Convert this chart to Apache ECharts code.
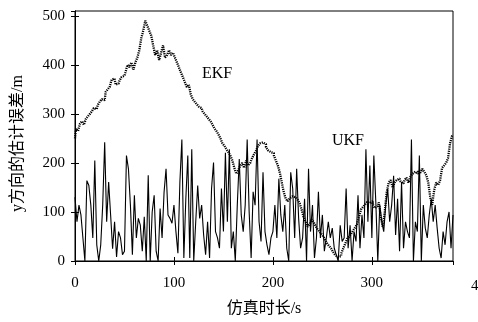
<!DOCTYPE html>
<html>
<head>
<meta charset="utf-8">
<script src="https://cdn.jsdelivr.net/npm/echarts@6/dist/echarts.min.js"></script>
<style>
  html, body { margin: 0; padding: 0; background: #fff; }
  #chart { width: 478px; height: 322px; }
</style>
</head>
<body>
<div id="chart"></div>
<script>
// 采样间隔 (s)
const timeStep = 2

// EKF 估计误差 (每 2 s 一个点)
const ekfError = [
  250, 270, 265, 280, 285, 278, 290, 295, 300, 305, 312, 310, 318, 325, 330, 328,
  345, 350, 355, 370, 372, 360, 362, 368, 375, 378, 385, 400, 395, 405, 390, 405,
  415, 430, 455, 470, 490, 480, 470, 460, 440, 420, 430, 410, 425, 440, 415, 420,
  430, 420, 425, 415, 405, 395, 385, 375, 365, 355, 360, 340, 330, 325, 320, 315,
  312, 305, 300, 295, 290, 285, 278, 270, 265, 258, 250, 240, 235, 228, 222, 215,
  205, 190, 178, 185, 195, 200, 190, 205, 195, 200, 210, 218, 225, 235, 240, 242,
  238, 232, 226, 222, 220, 215, 205, 195, 180, 160, 140, 127, 122, 128, 132, 130,
  128, 125, 118, 105, 90, 80, 70, 75, 85, 80, 72, 65, 60, 55, 50, 42,
  35, 30, 25, 18, 12, 8, 10, 15, 25, 35, 45, 50, 55, 62, 68, 75,
  90, 105, 110, 115, 120, 118, 122, 115, 108, 112, 120, 90, 70, 100, 140, 160,
  165, 150, 160, 165, 168, 162, 158, 165, 170, 160, 172, 178, 182, 178, 185, 180,
  188, 182, 175, 160, 130, 115, 145, 160, 155, 165, 190, 195, 200, 210, 240, 255
]

// UKF 估计误差 (每 2 s 一个点)
const ukfError = [
  130, 80, 114, 94, 47, 0, 164, 154, 114, 47, 205, 33, 0, 33, 114, 242,
  80, 161, 94, 25, 80, 8, 60, 47, 13, 20, 215, 188, 114, 13, 134, 47,
  87, 73, 20, 90, 0, 175, 0, 100, 134, 20, 0, 107, 47, 140, 188, 94,
  87, 77, 114, 60, 16, 161, 248, 6, 127, 215, 6, 228, 0, 80, 154, 87,
  114, 53, 13, 80, 6, 148, 201, 60, 47, 26, 148, 60, 221, 80, 228, 26,
  60, 0, 114, 208, 94, 60, 114, 248, 100, 6, 141, 114, 248, 80, 40, 181,
  60, 33, 13, 47, 60, 114, 47, 168, 94, 60, 114, 26, 0, 181, 148, 47,
  188, 87, 26, 47, 127, 0, 188, 60, 114, 6, 47, 141, 47, 94, 20,
  47, 80, 47, 67, 26, 13, 0, 73, 40, 47, 148, 26, 73, 0, 60, 40,
  134, 26, 94, 47, 228, 80, 195, 47, 215, 120, 0, 114, 80, 60, 114, 148,
  80, 114, 174, 53, 127, 20, 161, 26, 80, 60, 47, 248, 0, 80, 60, 215,
  0, 114, 67, 47, 94, 127, 80, 114, 67, 26, 6, 60, 33, 80, 100, 26, 94
]

const xTicks = [0, 100, 200, 300, 400]
const yTicks = [0, 100, 200, 300, 400, 500]

const serif = '"Liberation Serif", "Noto Sans CJK SC", serif'

function toPairs(values) {
  return values.map((v, i) => [i * timeStep, v])
}

const chart = echarts.init(document.getElementById('chart'))

const axisCommon = {
  axisLine: { lineStyle: { color: '#000', width: 1 } },
  axisTick: { inside: true, length: 4, lineStyle: { color: '#000' } },
  splitLine: { show: false }
}

const option = {
  backgroundColor: '#fff',
  animation: false,
  grid: {
    left: 75,
    right: 25,
    top: 11,
    bottom: 58,
    show: true,
    borderColor: '#000',
    borderWidth: 1
  },
  xAxis: [
    Object.assign({}, axisCommon, {
      type: 'value',
      min: 0,
      max: 382,
      interval: 100,
      name: '仿真时长/s',
      nameLocation: 'middle',
      nameGap: 40,
      nameTextStyle: { fontFamily: serif, fontSize: 16, color: '#000' },
      axisLabel: {
        fontFamily: serif, fontSize: 15, color: '#000', margin: 15,
        showMaxLabel: false
      }
    }),
    Object.assign({}, axisCommon, {
      type: 'value',
      position: 'top',
      min: 0,
      max: 382,
      interval: 100,
      axisLabel: { show: false }
    })
  ],
  yAxis: [
    Object.assign({}, axisCommon, {
      type: 'value',
      min: 0,
      max: 510,
      interval: 100,
      name: 'y方向的估计误差/m',
      nameLocation: 'middle',
      nameGap: 49,
      nameTextStyle: {
        fontFamily: serif, fontSize: 16, color: '#000',
        padding: [0, 15, 0, 0]
      },
      axisLabel: {
        fontFamily: serif, fontSize: 15, color: '#000', margin: 10,
        showMaxLabel: false
      }
    }),
    Object.assign({}, axisCommon, {
      type: 'value',
      position: 'right',
      min: 0,
      max: 510,
      interval: 100,
      axisLabel: { show: false }
    })
  ],
  graphic: [
    {
      type: 'text', left: 202, top: 66,
      style: { text: 'EKF', font: '16px ' + serif, fill: '#000' }
    },
    {
      type: 'text', left: 332, top: 133,
      style: { text: 'UKF', font: '16px ' + serif, fill: '#000' }
    },
    {
      type: 'text', left: 471, top: 279,
      style: { text: String(xTicks[4]), font: '15px ' + serif, fill: '#000' }
    }
  ],
  series: [
    {
      name: 'UKF',
      type: 'line',
      data: toPairs(ukfError),
      showSymbol: false,
      lineStyle: { color: '#000', width: 1.1 },
      z: 2
    },
    {
      name: 'EKF',
      type: 'line',
      data: toPairs(ekfError),
      showSymbol: false,
      step: 'middle',
      lineStyle: { color: '#000', width: 2.3, type: [1.2, 1] },
      z: 3
    }
  ]
}

chart.setOption(option)
</script>
</body>
</html>
